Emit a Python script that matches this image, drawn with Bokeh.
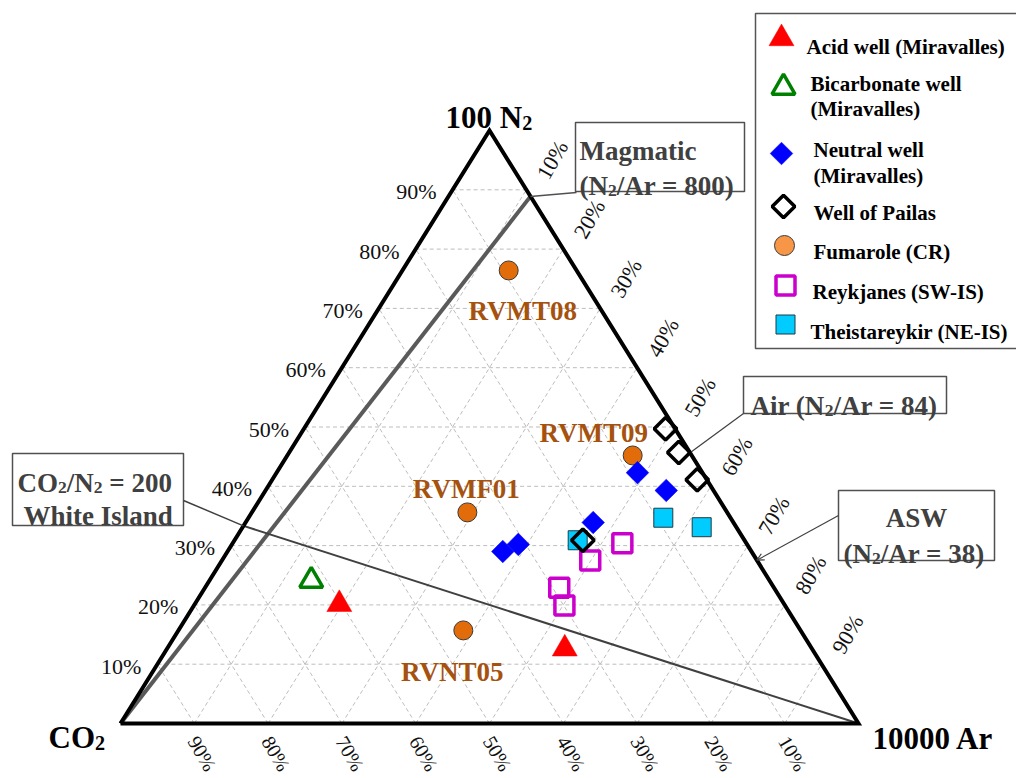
import numpy as np
from bokeh.plotting import figure
from bokeh.models import Range1d, Arrow, OpenHead
from bokeh.core.properties import value
from bokeh.embed import file_html
from bokeh.resources import INLINE

# ---------------- data (CO2 / N2 / Ar, % of the scaled ternary) ----------------
acid_co2 = [60.3, 33.5]
acid_n2 = [20.1, 12.6]
acid_ar = [19.6, 53.9]

bicarb_co2 = [62.1]
bicarb_n2 = [24.1]
bicarb_ar = [13.8]

neutral_co2 = [8.8, 6.4, 19.0, 31.0, 33.7]
neutral_n2 = [42.3, 39.3, 33.9, 30.2, 29.0]
neutral_ar = [48.9, 54.3, 47.1, 38.8, 37.3]

pailas_co2 = [1.3, 1.5, 1.3, 21.9]
pailas_n2 = [49.7, 45.7, 41.1, 30.9]
pailas_ar = [49.0, 52.8, 57.6, 47.2]

fum_names = ["RVMT08", "RVMT09", "RVMF01", "RVNT05"]
fum_co2 = [9.2, 8.0, 35.2, 45.7]
fum_n2 = [76.4, 45.2, 35.6, 15.7]
fum_ar = [14.4, 46.8, 29.2, 38.6]

reyk_co2 = [16.8, 22.6, 29.1, 29.9]
reyk_n2 = [30.4, 27.5, 22.9, 19.9]
reyk_ar = [52.8, 49.9, 48.0, 50.2]

theis_co2 = [9.1, 4.7, 22.6]
theis_n2 = [34.7, 33.1, 30.9]
theis_ar = [56.2, 62.2, 46.5]

ticks = [10, 20, 30, 40, 50, 60, 70, 80, 90]
tick_labels = ["10%", "20%", "30%", "40%", "50%", "60%", "70%", "80%", "90%"]

scale = 100            # 100 N2 vs 10000 Ar / CO2
magmatic_n2_ar = 800
air_n2_ar = 84
asw_n2_ar = 38
wi_co2_n2 = 200

legend_labels = [
    ["Acid well (Miravalles)"],
    ["Bicarbonate well", "(Miravalles)"],
    ["Neutral well", "(Miravalles)"],
    ["Well of Pailas"],
    ["Fumarole (CR)"],
    ["Reykjanes (SW-IS)"],
    ["Theistareykir (NE-IS)"],
]

# ---------------- layout ----------------
FONT = "Liberation Serif"
V_CO2 = (120.0, 723.0)
V_AR = (858.0, 723.0)
V_N2 = (489.0, 130.0)


def tern(co2, n2, ar):
    co2 = np.asarray(co2, float); n2 = np.asarray(n2, float); ar = np.asarray(ar, float)
    s = co2 + n2 + ar
    x = (co2 * V_CO2[0] + ar * V_AR[0] + n2 * V_N2[0]) / s
    y = (co2 * V_CO2[1] + ar * V_AR[1] + n2 * V_N2[1]) / s
    return x, y


W_PX, H_PX = 1016, 776
p = figure(width=W_PX, height=H_PX, x_range=Range1d(0, W_PX), y_range=Range1d(H_PX, 0),
           output_backend="svg", toolbar_location=None, min_border=0,
           x_axis_type=None, y_axis_type=None)
p.grid.visible = False
p.outline_line_color = None
p.background_fill_color = "white"
p.border_fill_color = "white"

W = {' ': .25, '(': .333, ')': .333, '/': .278, '=': .570, '-': .333, '%': 1.0,
     'A': .722, 'B': .667, 'C': .722, 'D': .722, 'E': .667, 'F': .611, 'I': .389,
     'M': .944, 'N': .722, 'O': .778, 'P': .611, 'R': .722, 'S': .556, 'T': .667,
     'V': .722, 'W': 1.0, 'a': .5, 'b': .556, 'c': .444, 'd': .556, 'e': .444,
     'g': .5, 'h': .556, 'i': .278, 'k': .556, 'l': .278, 'm': .833, 'n': .556,
     'o': .5, 'r': .444, 's': .389, 't': .333, 'u': .556, 'v': .5, 'w': .722, 'y': .5}
SUB = 0.65


def sw(s):
    return sum(W.get(ch, 0.5) for ch in s)


def rich(x, y, parts, size, color, align="left", style="bold"):
    total = sum(sw(t) * (size * SUB if sub else size) for t, sub in parts)
    if align == "center":
        x = x - total / 2
    for t, sub in parts:
        fs = size * SUB if sub else size
        yy = y + size * 0.17 if sub else y
        lead = len(t) - len(t.lstrip(" "))
        xs = x + lead * W[' '] * fs
        p.text(x=[xs], y=[yy], text=[t.strip(" ")], text_font=value(FONT), text_font_size=f"{fs:.1f}px",
               text_font_style=style, text_color=color, text_align="left",
               text_baseline="alphabetic")
        x += sw(t) * fs


# ---------------- grid ----------------
gx, gy = [], []
for t in ticks:
    f = t / 100
    for a, b in [((1 - f, f, 0), (0, f, 1 - f)),
                 ((1 - f, 0, f), (0, 1 - f, f)),
                 ((f, 0, 1 - f), (f, 1 - f, 0))]:
        x0, y0 = tern(*a)
        x1, y1 = tern(*b)
        gx.append([float(x0), float(x1)])
        gy.append([float(y0), float(y1)])
p.multi_line(gx, gy, line_color="#BDBDBD", line_width=1, line_dash="4 3")

# ---------------- reference lines ----------------
mag_n = magmatic_n2_ar / scale
mx, my = tern(0, mag_n, 1)
p.line([V_CO2[0], float(mx)], [V_CO2[1], float(my)], line_color="#5A5A5A", line_width=4)

wi_c = wi_co2_n2 / scale
wx, wy = tern(wi_c, 1, 0)
p.line([V_AR[0], float(wx)], [V_AR[1], float(wy)], line_color="#404040", line_width=2)

ax_, ay_ = tern(0, air_n2_ar / scale, 1)
sx_, sy_ = tern(0, asw_n2_ar / scale, 1)

# ---------------- triangle frame ----------------
p.line([V_CO2[0], V_AR[0], V_N2[0], V_CO2[0]], [V_CO2[1], V_AR[1], V_N2[1], V_CO2[1]],
       line_color="black", line_width=4, line_join="miter")

# ---------------- tick labels ----------------
for t, lab in zip(ticks, tick_labels):
    f = t / 100
    x, y = tern(1 - f, f, 0)          # N2 along left edge
    p.text(x=[float(x) - 16], y=[float(y) + 2], text=[lab], text_font=value(FONT),
           text_font_size="22px", text_align="right", text_baseline="middle", text_color="#111111")
    x, y = tern(0, 1 - f, f)          # Ar along right edge
    p.text(x=[float(x) + 26], y=[float(y) - 30], text=[lab], text_font=value(FONT),
           text_font_size="22px", text_align="center", text_baseline="middle",
           angle=np.pi / 3, text_color="#111111")
    x, y = tern(f, 0, 1 - f)          # CO2 along bottom edge
    p.text(x=[float(x) + 8], y=[float(y) + 30], text=[lab], text_font=value(FONT),
           text_font_size="20px", text_align="center", text_baseline="middle",
           angle=-np.pi / 3, text_color="#111111")

# ---------------- annotation boxes ----------------
BOXC = "#404040"
boxes = [(575, 744, 122, 191), (743, 946, 376, 413), (838, 994, 490, 560), (12, 183, 453, 525)]
for l, r, t_, b in boxes:
    p.quad(left=l, right=r, top=t_, bottom=b, fill_color="white", line_color="#505050", line_width=1.5)

# leaders
p.line([float(mx), 576], [float(my), 192], line_color="#505050", line_width=1.5)
p.line([183, float(wx)], [500, float(wy)], line_color="#404040", line_width=1.5)
p.line([743, float(ax_)], [413, float(ay_)], line_color="#404040", line_width=1.2)
p.add_layout(Arrow(end=OpenHead(size=7, line_width=1.2, line_color="#404040"),
                   x_start=838, y_start=515, x_end=float(sx_), y_end=float(sy_),
                   line_color="#404040", line_width=1.2))

rich(579, 150, [("Magmatic", 0)], 27, BOXC)
rich(579, 185, [("(N", 0), ("2", 1), ("/Ar = " + str(magmatic_n2_ar) + ")", 0)], 27, BOXC)
rich(750, 405, [("Air (N", 0), ("2", 1), ("/Ar = " + str(air_n2_ar) + ")", 0)], 27, BOXC)
rich(916, 517, [("ASW", 0)], 27, BOXC, align="center")
rich(843, 553, [("(N", 0), ("2", 1), ("/Ar = " + str(asw_n2_ar) + ")", 0)], 27, BOXC)
rich(17, 482, [("CO", 0), ("2", 1), ("/N", 0), ("2", 1), (" = " + str(wi_co2_n2), 0)], 27, BOXC)
rich(23, 515, [("White Island", 0)], 27, BOXC)

# vertex labels
rich(V_N2[0] - 44, V_N2[1] - 13, [("100 N", 0), ("2", 1)], 31, "black")
rich(V_CO2[0] - 72, V_CO2[1] + 14, [("CO", 0), ("2", 1)], 31, "black")
rich(V_AR[0] + 14, V_AR[1] + 15, [("10000 Ar", 0)], 31, "black")

# ---------------- data markers ----------------
x, y = tern(theis_co2, theis_n2, theis_ar)
p.scatter(x, y, marker="square", size=19, fill_color="#00CCFF", line_color="#1F3A44", line_width=1)

x, y = tern(reyk_co2, reyk_n2, reyk_ar)
p.scatter(x, y, marker="square", size=19, fill_alpha=0, line_color="#CC00CC", line_width=3.5)

x, y = tern(fum_co2, fum_n2, fum_ar)
p.scatter(x, y, marker="circle", size=19, fill_color="#E36C0A", line_color="#3A3A3A", line_width=1)
lab_off = [(14, 41), (-39, -22), (-1, -23), (-11, 42)]
for name, xx, yy, (dx, dy) in zip(fum_names, x, y, lab_off):
    p.text(x=[float(xx) + dx], y=[float(yy) + dy], text=[name], text_font=value(FONT),
           text_font_size="27px", text_font_style="bold", text_color="#A5520F",
           text_align="center", text_baseline="alphabetic")

x, y = tern(neutral_co2, neutral_n2, neutral_ar)
p.scatter(x, y, marker="square", angle=np.pi / 4, size=16, fill_color="#0000FF", line_color="#0000FF", line_width=0.5)

x, y = tern(acid_co2, acid_n2, acid_ar)
p.scatter(x, y, marker="triangle", size=25, fill_color="#FF0000", line_color="#FF0000", line_width=0.5)

x, y = tern(bicarb_co2, bicarb_n2, bicarb_ar)
p.scatter(x, y, marker="triangle", size=23, fill_alpha=0, line_color="#008000", line_width=3.5)

x, y = tern(pailas_co2, pailas_n2, pailas_ar)
p.scatter(x, y, marker="square", angle=np.pi / 4, size=16, fill_alpha=0, line_color="black", line_width=3.5)

# ---------------- legend ----------------
p.quad(left=755, right=1040, top=13, bottom=348, fill_color="white", line_color="#555555", line_width=1.5)
leg_marks = [
    dict(x=781, y=38, marker="triangle", size=25, fill_color="#FF0000", line_color="#FF0000", line_width=0.5),
    dict(x=783, y=87, marker="triangle", size=23, fill_alpha=0, line_color="#008000", line_width=3.5),
    dict(x=781, y=153, marker="square", angle=np.pi / 4, size=16, fill_color="#0000FF", line_color="#0000FF", line_width=0.5),
    dict(x=783, y=206, marker="square", angle=np.pi / 4, size=16, fill_alpha=0, line_color="black", line_width=3.5),
    dict(x=784, y=245, marker="circle", size=20, fill_color="#F79646", line_color="#3A3A3A", line_width=1),
    dict(x=785, y=285, marker="square", size=19, fill_alpha=0, line_color="#CC00CC", line_width=3.5),
    dict(x=785, y=324, marker="square", size=19, fill_color="#00CCFF", line_color="#1F3A44", line_width=1),
]
leg_text = [(806, [46]), (810, [83, 108]), (813, [149, 175]), (813, [212]),
            (813, [251]), (812, [291]), (810, [331])]
for m, (tx, tys), labs in zip(leg_marks, leg_text, legend_labels):
    mx_, my_ = m.pop("x"), m.pop("y")
    p.scatter([mx_], [my_], **m)
    for ty, lab in zip(tys, labs):
        p.text(x=[tx], y=[ty], text=[lab], text_font=value(FONT), text_font_size="21px",
               text_font_style="bold", text_color="black", text_align="left",
               text_baseline="alphabetic")

open("out.html", "w").write(file_html(p, INLINE))
